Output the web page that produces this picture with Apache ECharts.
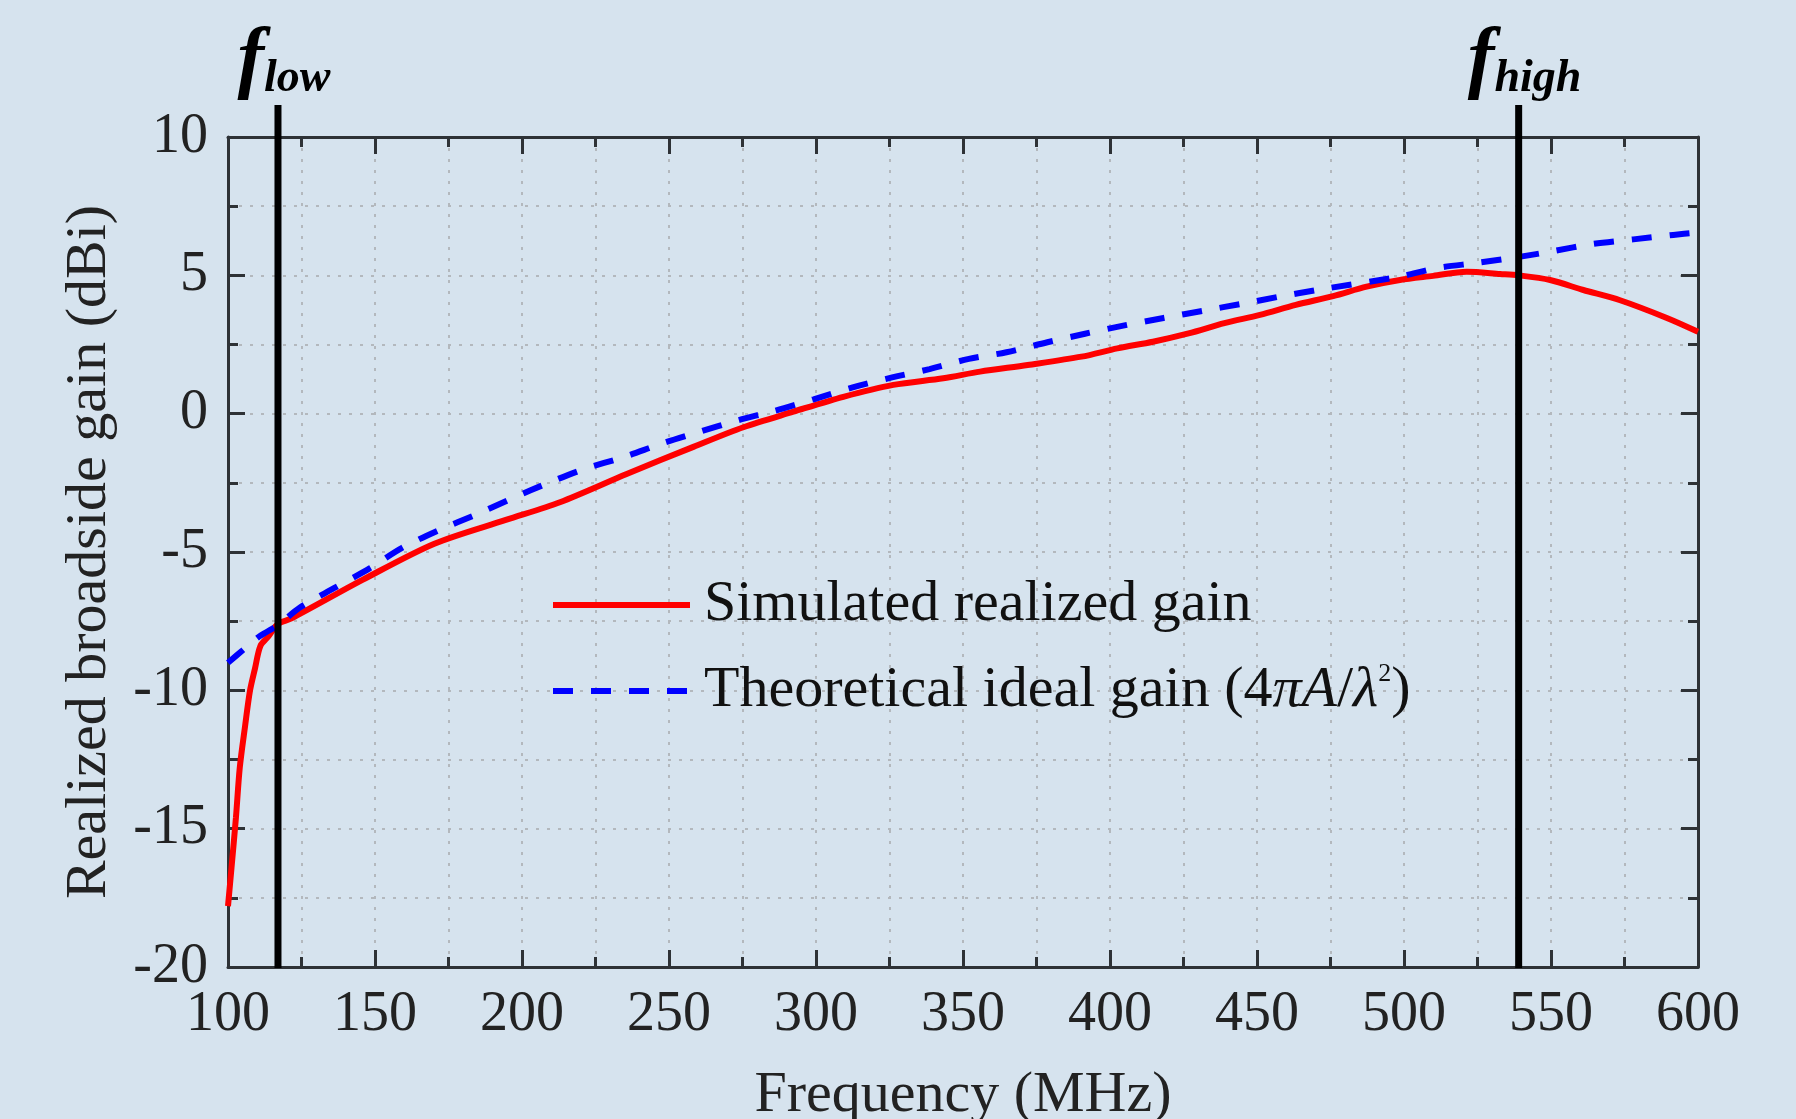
<!DOCTYPE html>
<html>
<head>
<meta charset="utf-8">
<script src="https://cdn.jsdelivr.net/npm/echarts@6/dist/echarts.min.js"></script>
<style>
html, body { margin: 0; padding: 0; background: #d6e3ee; }
#chart { width: 1796px; height: 1119px; }
</style>
</head>
<body>
<div id="chart"></div>
<script>
// simulated realized gain (red)
var freqSim = [100, 101.2, 102.7, 104, 105.8, 107.5, 109.2, 111, 113.6, 117, 121.6, 145.9, 170.2, 194.5, 212.9, 235.6, 258.3,
	275.3, 292.3, 309.3, 326.3, 343.3, 355.8, 372, 390.3, 402.5, 414.6, 426.7, 438.9, 451, 463.2,
	475.9, 487.3, 498.6, 509.9, 521.3, 532.7, 539, 549.7, 561, 573.5, 589.4, 600];
var gainSim = [-17.8, -16.4, -14.6, -12.8, -11.3, -10.0, -9.2, -8.4, -8.07, -7.6, -7.4, -6.0, -4.7, -3.84, -3.2, -2.18, -1.2,
	-0.49, 0.07, 0.61, 1.04, 1.28, 1.52, 1.76, 2.06, 2.36, 2.6, 2.9, 3.27, 3.57, 3.93,
	4.25, 4.59, 4.83, 4.98, 5.13, 5.05, 5.0, 4.83, 4.47, 4.1, 3.46, 2.96];

// theoretical ideal gain (blue dashed)
var freqIdeal = [100, 105, 110, 113, 116.9, 124.6, 136.2, 148.3, 159.2, 172, 184.1, 196.9, 209, 221.2, 234.6, 247.9, 260, 273.4,
	285.8, 299.2, 312.5, 325.9, 338.6, 352, 364.8, 378.7, 391.5, 404.9, 418.2, 432.2, 444.9, 457.7, 470.4,
	498, 511, 524.8, 538.8, 551, 564, 578, 591.6, 600];
var gainIdeal = [-9.0, -8.55, -8.1, -7.9, -7.65, -7.0, -6.3, -5.58, -4.85, -4.2, -3.66, -3.05, -2.5, -2.0, -1.57, -1.07, -0.67, -0.24,
	0.1, 0.52, 0.95, 1.31, 1.61, 1.98, 2.22, 2.58, 2.89, 3.19, 3.46, 3.73, 3.97, 4.23, 4.47,
	4.94, 5.26, 5.45, 5.66, 5.88, 6.13, 6.3, 6.46, 6.55];

// band edges (MHz) and their subscripts
var edgeFreq = [117, 539];
var edgeName = ['low', 'high'];

var xTicks = { min: 100, max: 600, interval: 50 };
var yTicks = { min: -20, max: 10, interval: 5 };

(function(){
	var serif = 'Liberation Serif';
	var axisColor = '#2e3236';
	var gridLine = { show: true, lineStyle: { color: '#b3b8bd', width: 2, type: [3, 8] } };

	function pairs(xs, ys) {
		return xs.map(function(x, i){ return [x, ys[i]]; });
	}

	function tickCommon() {
		return {
			axisLine: { show: true, onZero: false, lineStyle: { color: axisColor, width: 3 } },
			axisTick: { show: true, inside: true, length: 17, lineStyle: { color: axisColor, width: 3 } },
			minorTick: { show: true, splitNumber: 2, length: 10, lineStyle: { color: axisColor, width: 3 } }
		};
	}

	// vertical band-edge markers, drawn through the axis scale
	function renderEdge(params, api) {
		var x = api.value(0);
		var top = api.coord([x, yTicks.max]);
		var bottom = api.coord([x, yTicks.min]);
		var name = edgeName[params.dataIndex];
		return {
			type: 'group',
			children: [
				{
					type: 'line',
					shape: { x1: top[0], y1: top[1] - 32, x2: bottom[0], y2: bottom[1] + 1 },
					style: { stroke: '#000', lineWidth: 7 }
				},
				{
					type: 'text',
					x: top[0] + 6,
					y: top[1] - 35,
					style: {
						text: '{f|f}{s|' + name + '}',
						align: 'center',
						verticalAlign: 'bottom',
						rich: {
							f: { fontFamily: serif, fontStyle: 'italic', fontWeight: 'bold', fontSize: 80, fill: '#000', lineHeight: 86, verticalAlign: 'bottom' },
							s: { fontFamily: serif, fontStyle: 'italic', fontWeight: 'bold', fontSize: 46, fill: '#000', lineHeight: 34, verticalAlign: 'bottom' }
						}
					}
				}
			]
		};
	}

	var option = {
		animation: false,
		backgroundColor: '#d6e3ee',
		grid: { left: 228, right: 98, top: 137, bottom: 152, outerBoundsMode: 'none', containLabel: false },
		legend: {
			orient: 'vertical',
			left: 545,
			top: 571,
			itemWidth: 137,
			itemHeight: 20,
			itemGap: 27,
			selectedMode: false,
			itemStyle: { opacity: 0 },
			lineStyle: { width: 6 },
			data: ['Simulated realized gain', 'Theoretical ideal gain (4πA/λ²)'],
			formatter: function(name){
				if (name.indexOf('Theoretical') === 0) {
					return '{n|Theoretical ideal gain (4}{i|πA}{n|/}{i|λ}{sup|2}{n|)}';
				}
				return '{n|' + name + '}';
			},
			textStyle: {
				padding: [0, 0, 0, 9],
				rich: {
					n: { fontFamily: serif, fontSize: 58, color: '#111', lineHeight: 60 },
					i: { fontFamily: serif, fontStyle: 'italic', fontSize: 58, color: '#111', lineHeight: 60 },
					sup: { fontFamily: serif, fontSize: 26, color: '#111', lineHeight: 22, verticalAlign: 'top' }
				}
			}
		},
		xAxis: [
			Object.assign({
				type: 'value',
				position: 'bottom',
				min: xTicks.min, max: xTicks.max, interval: xTicks.interval,
				name: 'Frequency (MHz)',
				nameLocation: 'middle',
				nameGap: 100,
				nameTextStyle: { fontFamily: serif, fontSize: 58, color: '#222' },
				axisLabel: { fontFamily: serif, fontSize: 56, color: '#222', margin: 20 },
				splitLine: gridLine,
				minorSplitLine: gridLine
			}, tickCommon()),
			Object.assign({
				type: 'value',
				position: 'top',
				min: xTicks.min, max: xTicks.max, interval: xTicks.interval,
				axisLabel: { show: false },
				splitLine: { show: false }
			}, tickCommon())
		],
		yAxis: [
			Object.assign({
				type: 'value',
				position: 'left',
				min: yTicks.min, max: yTicks.max, interval: yTicks.interval,
				name: 'Realized broadside gain (dBi)',
				nameLocation: 'middle',
				nameGap: 109,
				nameTextStyle: { fontFamily: serif, fontSize: 58, color: '#222' },
				axisLabel: { fontFamily: serif, fontSize: 56, color: '#222', margin: 20 },
				splitLine: gridLine,
				minorSplitLine: gridLine
			}, tickCommon()),
			Object.assign({
				type: 'value',
				position: 'right',
				min: yTicks.min, max: yTicks.max, interval: yTicks.interval,
				axisLabel: { show: false },
				splitLine: { show: false }
			}, tickCommon())
		],
		series: [
			{
				name: 'Theoretical ideal gain (4πA/λ²)',
				type: 'line',
				symbol: 'none',
				showSymbol: false,
				smooth: 0.3,
				data: pairs(freqIdeal, gainIdeal),
				lineStyle: { color: '#0000ff', width: 6, type: [20, 18] },
				itemStyle: { color: '#0000ff' },
				z: 3
			},
			{
				name: 'Simulated realized gain',
				type: 'line',
				symbol: 'none',
				showSymbol: false,
				smooth: 0.3,
				data: pairs(freqSim, gainSim),
				lineStyle: { color: '#ff0000', width: 6 },
				itemStyle: { color: '#ff0000' },
				z: 2
			},
			{
				name: 'edges',
				type: 'custom',
				clip: false,
				silent: true,
				z: 5,
				renderItem: renderEdge,
				data: edgeFreq.map(function(f){ return [f]; })
			}
		]
	};

	var myChart = echarts.init(document.getElementById('chart'));
	myChart.setOption(option);
})();
</script>
</body>
</html>
